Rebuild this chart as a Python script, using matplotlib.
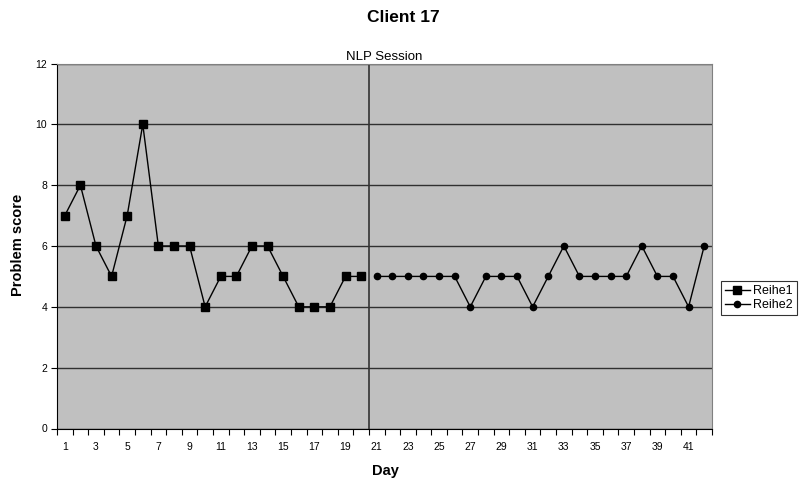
import numpy as np
import matplotlib
matplotlib.use('Agg')
import matplotlib.pyplot as plt
from matplotlib.ticker import FixedLocator, NullFormatter

plt.rcParams['font.family'] = ['Liberation Sans', 'DejaVu Sans']

# Days 1..42, baseline (Reihe1) and after the NLP session (Reihe2)
days = list(range(1, 43))
reihe1_days = list(range(1, 21))
reihe1 = [7, 8, 6, 5, 7, 10, 6, 6, 6, 4, 5, 5, 6, 6, 5, 4, 4, 4, 5, 5]
reihe2_days = list(range(21, 43))
reihe2 = [5, 5, 5, 5, 5, 5, 4, 5, 5, 5, 4, 5, 6, 5, 5, 5, 5, 6, 5, 5, 4, 6]
session_after_day = 20
y_ticks = [0, 2, 4, 6, 8, 10, 12]

fig = plt.figure(figsize=(8.08, 4.84), dpi=100)
ax = fig.add_axes([57 / 808, 1 - 428.5 / 484, (712 - 57) / 808, (428.5 - 63.5) / 484])
ax.set_facecolor('#c0c0c0')

# category positions (0-based index)
x1 = [d - 1 for d in reihe1_days]
x2 = [d - 1 for d in reihe2_days]

ax.plot(x1, reihe1, color='black', lw=1, marker='s', ms=5.5, label='Reihe1', zorder=3)
ax.plot(x2, reihe2, color='black', lw=1, marker='o', ms=4.5, label='Reihe2', zorder=3)

# session line between the two phases
ax.axvline(session_after_day - 0.5, color='#333333', lw=1.2, zorder=2)

ax.set_xlim(-0.5, len(days) - 0.5)
ax.set_ylim(0, 12)
ax.set_yticks(y_ticks)
ax.yaxis.grid(True, color='#303030', lw=1)
ax.set_axisbelow(True)

# ticks between categories, labels on every other category
ax.xaxis.set_major_locator(FixedLocator(np.arange(-0.5, len(days), 1)))
ax.xaxis.set_major_formatter(NullFormatter())
ax.xaxis.set_minor_locator(FixedLocator([d - 1 for d in days[::2]]))
ax.set_xticklabels([str(d) for d in days[::2]], minor=True)
ax.tick_params(axis='x', which='major', direction='out', length=4, width=0.8)
ax.tick_params(axis='x', which='minor', length=0, labelsize=7.5, pad=10)
ax.tick_params(axis='y', direction='out', length=4, width=0.8, labelsize=7.5, pad=3)

for side in ['top', 'right']:
    ax.spines[side].set_color('#808080')
for side in ['left', 'bottom']:
    ax.spines[side].set_color('black')

ax.set_title('NLP Session', fontsize=9.5, pad=1)
fig.text(403 / 808, 1 - 18 / 484, 'Client 17', ha='center', va='center', fontsize=12.5, fontweight='bold')
fig.text(385 / 808, 1 - 471 / 484, 'Day', ha='center', va='center', fontsize=10.5, fontweight='bold')
fig.text(18 / 808, 1 - 245 / 484, 'Problem score', ha='center', va='center', rotation=90,
         fontsize=10.5, fontweight='bold')

leg = fig.legend(loc='center left', bbox_to_anchor=(721 / 808, 1 - 298 / 484), fontsize=9,
                 frameon=True, fancybox=False, edgecolor='black', borderpad=0.3,
                 handlelength=2.0, handletextpad=0.3, labelspacing=0.15, borderaxespad=0)
leg.get_frame().set_linewidth(0.8)

fig.savefig('out.png', dpi=100)
